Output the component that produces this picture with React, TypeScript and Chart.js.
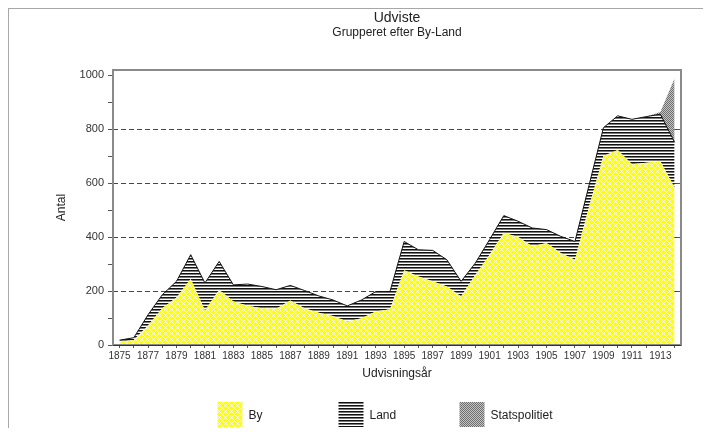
import React, { useEffect, useRef } from 'react';
import { Chart, registerables } from 'chart.js';

Chart.register(...registerables);

const years = [
  1875, 1876, 1877, 1878, 1879, 1880, 1881, 1882, 1883, 1884,
  1885, 1886, 1887, 1888, 1889, 1890, 1891, 1892, 1893, 1894,
  1895, 1896, 1897, 1898, 1899, 1900, 1901, 1902, 1903, 1904,
  1905, 1906, 1907, 1908, 1909, 1910, 1911, 1912, 1913, 1914,
];
const labeledYears = [
  1875, 1877, 1879, 1881, 1883, 1885, 1887, 1889, 1891, 1893,
  1895, 1897, 1899, 1901, 1903, 1905, 1907, 1909, 1911, 1913,
];
const byValues = [
  12, 19, 72, 136, 176, 245, 128, 205, 161, 146,
  136, 134, 165, 136, 120, 108, 87, 99, 124, 133,
  277, 254, 236, 217, 180, 260, 335, 416, 401, 366,
  378, 341, 316, 515, 701, 723, 670, 676, 682, 583,
];
const landValues = [
  6, 8, 40, 50, 60, 90, 102, 105, 62, 80,
  81, 71, 56, 66, 62, 59, 58, 68, 74, 65,
  107, 99, 115, 99, 56, 44, 56, 64, 58, 68,
  50, 62, 68, 80, 105, 127, 167, 171, 174, 169,
];
const statspolitietValues = [
  0, 0, 0, 0, 0, 0, 0, 0, 0, 0,
  0, 0, 0, 0, 0, 0, 0, 0, 0, 0,
  0, 0, 0, 0, 0, 0, 0, 0, 0, 0,
  0, 0, 0, 0, 0, 0, 0, 0, 8, 237,
];
const yTickValues = [0, 100, 200, 300, 400, 500, 600, 700, 800, 900, 1000];
const yLabelValues = [0, 200, 400, 600, 800, 1000];
const seriesLabels = ['By', 'Land', 'Statspolitiet'];

const FONT = '"Liberation Sans", Arial, Helvetica, sans-serif';

function makePattern(w: number, h: number, pix: (x: number, y: number) => string) {
  const c = document.createElement('canvas');
  c.width = w;
  c.height = h;
  const g = c.getContext('2d')!;
  for (let y = 0; y < h; y++) {
    for (let x = 0; x < w; x++) {
      g.fillStyle = pix(x, y);
      g.fillRect(x, y, 1, 1);
    }
  }
  return g.createPattern(c, 'repeat')!;
}

const framePlugin = {
  id: 'frameAndLegend',
  afterDraw(chart: any) {
    const { ctx, chartArea } = chart;
    const ys = chart.scales.y;
    ctx.save();
    // right-side ticks
    ctx.strokeStyle = '#555';
    ctx.lineWidth = 1;
    yLabelValues.forEach((v) => {
      if (v <= 0 || v >= 1000) return;
      const py = Math.round(ys.getPixelForValue(v)) + 0.5;
      ctx.beginPath();
      ctx.moveTo(chartArea.right - 4, py);
      ctx.lineTo(chartArea.right, py);
      ctx.stroke();
    });
    // frame
    ctx.strokeStyle = '#8a8a8a';
    ctx.lineWidth = 2;
    ctx.strokeRect(chartArea.left, chartArea.top, chartArea.right - chartArea.left, chartArea.bottom - chartArea.top);
    // bottom axis line
    ctx.strokeStyle = '#333';
    ctx.lineWidth = 1;
    ctx.beginPath();
    ctx.moveTo(chartArea.left, chartArea.bottom + 0.5);
    ctx.lineTo(chartArea.right, chartArea.bottom + 0.5);
    ctx.stroke();

    // legend with fixed-width columns
    const cx = (chartArea.left + chartArea.right) / 2;
    const colW = 121;
    const box = 25;
    const boxTop = chart.height - 33;
    ctx.font = '12px ' + FONT;
    ctx.textBaseline = 'middle';
    ctx.textAlign = 'left';
    chart.data.datasets.forEach((ds: any, i: number) => {
      const x = cx - 1.5 * colW + i * colW + 2;
      ctx.fillStyle = ds.backgroundColor;
      ctx.fillRect(x, boxTop, box, box);
      ctx.fillStyle = '#222';
      ctx.fillText(ds.label, x + box + 6, boxTop + box / 2 + 1);
    });
    ctx.restore();
  },
};

export default function App() {
  const ref = useRef<HTMLCanvasElement>(null);

  useEffect(() => {
    if (!ref.current) return;
    Chart.defaults.font.family = FONT;

    const yellow = makePattern(6, 6, (x, y) =>
      (x + y) % 6 === 0 || (x - y + 6) % 6 === 0 ? '#fdfdc0' : '#ffff00'
    );
    const stripes = makePattern(1, 3, (_x, y) => ['#111111', '#7a7a7a', '#ffffff'][y]);
    const dots = makePattern(2, 2, (x, y) => ((x + y) % 2 === 0 ? '#6e6e6e' : '#c4c4c4'));

    const toPts = (vals: number[]) => years.map((yr, i) => ({ x: yr, y: vals[i] }));

    const chart = new Chart(ref.current, {
      type: 'line',
      data: {
        datasets: [
          {
            label: seriesLabels[0],
            data: toPts(byValues),
            backgroundColor: yellow as any,
            borderWidth: 0,
            borderColor: 'rgba(0,0,0,0)',
            fill: 'origin',
            pointRadius: 0,
            tension: 0,
          },
          {
            label: seriesLabels[1],
            data: toPts(landValues),
            backgroundColor: stripes as any,
            borderWidth: 1,
            borderColor: '#111',
            fill: '-1',
            pointRadius: 0,
            tension: 0,
          },
          {
            label: seriesLabels[2],
            data: toPts(statspolitietValues),
            backgroundColor: dots as any,
            borderWidth: 0,
            borderColor: 'rgba(0,0,0,0)',
            fill: '-1',
            pointRadius: 0,
            tension: 0,
          },
        ],
      },
      options: {
        responsive: false,
        animation: false,
        events: [],
        layout: { padding: { top: 0, left: 0, right: 30, bottom: 50 } },
        plugins: {
          legend: { display: false },
          tooltip: { enabled: false },
          title: {
            display: true,
            text: 'Udviste',
            fullSize: false,
            color: '#222',
            font: { size: 14, weight: 'normal' },
            padding: { top: 0.6, bottom: 0 },
          },
          subtitle: {
            display: true,
            text: 'Grupperet efter By-Land',
            fullSize: false,
            color: '#222',
            font: { size: 12, weight: 'normal' },
            padding: { top: -0.6, bottom: 29.8 },
          },
        },
        scales: {
          x: {
            type: 'linear',
            min: 1874.54,
            max: 1914.45,
            afterBuildTicks: (scale: any) => {
              scale.ticks = years.map((v) => ({ value: v }));
            },
            afterFit: (scale: any) => {
              scale.height = 40;
            },
            ticks: {
              autoSkip: false,
              maxRotation: 0,
              minRotation: 0,
              padding: 2,
              color: '#333',
              font: { size: 10 },
              callback: (v: any) => (labeledYears.includes(Number(v)) ? String(v) : ''),
            },
            grid: {
              drawOnChartArea: false,
              drawTicks: true,
              tickLength: 3,
              tickColor: '#555',
            },
            border: { display: false },
            title: {
              display: true,
              text: 'Udvisningsår',
              color: '#222',
              font: { size: 12 },
              padding: { top: 0, bottom: 3.8 },
            },
          },
          y: {
            type: 'linear',
            stacked: true,
            min: 0,
            max: 1020,
            afterBuildTicks: (scale: any) => {
              scale.ticks = yTickValues.map((v) => ({ value: v }));
            },
            afterFit: (scale: any) => {
              scale.width = 104;
            },
            ticks: {
              autoSkip: false,
              padding: 4,
              color: '#333',
              font: { size: 11 },
              callback: (v: any) => (yLabelValues.includes(Number(v)) ? String(v) : ''),
            },
            grid: {
              drawOnChartArea: true,
              drawTicks: true,
              tickLength: 5,
              tickColor: '#555',
              tickBorderDash: [],
              color: (c: any) => {
                const v = c.tick ? c.tick.value : -1;
                return v > 0 && v < 1000 && v % 200 === 0 ? '#444' : 'rgba(0,0,0,0)';
              },
            },
            border: { display: false, dash: [5, 3] },
            title: {
              display: true,
              text: 'Antal',
              color: '#222',
              font: { size: 12 },
              padding: { top: 45.8, bottom: 0 },
            },
          },
        },
      } as any,
      plugins: [framePlugin],
    });
    return () => chart.destroy();
  }, []);

  return (
    <div
      style={{
        borderTop: '1px solid #a8a8a8',
        borderLeft: '1px solid #a8a8a8',
        borderBottom: '1px solid #a8a8a8',
        width: 702,
        height: 426,
        marginBottom: -8,
      }}
    >
      <canvas ref={ref} width={702} height={426} style={{ display: 'block', width: 702, height: 426 }} />
    </div>
  );
}
